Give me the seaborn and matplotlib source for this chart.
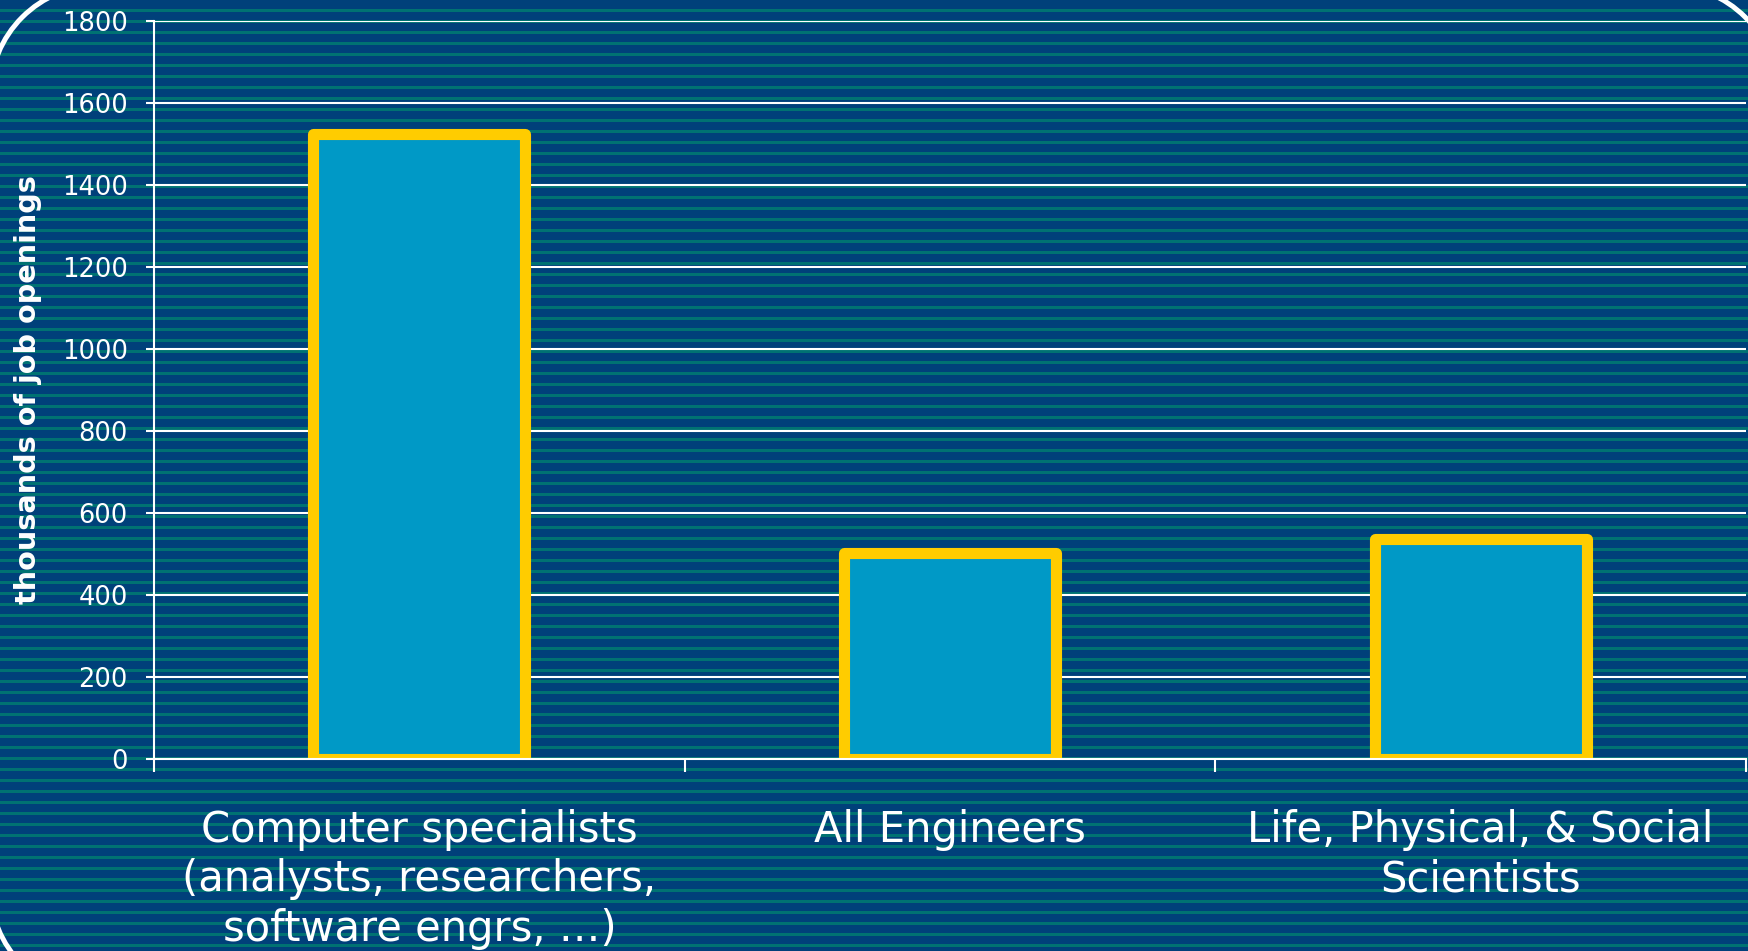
import matplotlib
matplotlib.use("Agg")
import matplotlib.pyplot as plt
from matplotlib.patches import Arc, Rectangle
import seaborn as sns
import pandas as pd

# Chart data
categories = [
    "Computer specialists\n(analysts, researchers,\nsoftware engrs, …)",
    "All Engineers",
    "Life, Physical, & Social\nScientists",
]
openings = [1525, 503, 537]
y_ticks = [0, 200, 400, 600, 800, 1000, 1200, 1400, 1600, 1800]
y_label = "thousands of job openings"

# Palette
NAVY = "#00407A"
STRIPE = "#007272"
BAR = "#0099C6"
EDGE = "#FFCC00"

sns.set_style("dark")
plt.rcParams["font.family"] = ["DejaVu Sans"]

W, H = 1749, 951
fig = plt.figure(figsize=(W / 100, H / 100), dpi=100)
fig.patch.set_facecolor(NAVY)

# Pinstriped slide background with a rounded white frame (pixel coordinates)
bg = fig.add_axes([0, 0, 1, 1], zorder=0)
bg.set_xlim(0, W)
bg.set_ylim(H, 0)
bg.axis("off")
bg.set_facecolor(NAVY)
for y in range(9, H, 11):
    bg.add_patch(Rectangle((0, y), W, 2.8, facecolor=STRIPE, lw=0))

R = 110
left, top, right, bottom = -10, -15, 1777.5, 997
corners = [
    ((left + R, top + R), 180, 270),
    ((right - R, top + R), 270, 360),
    ((left + R, bottom - R), 90, 180),
    ((right - R, bottom - R), 0, 90),
]
for (cx, cy), t1, t2 in corners:
    bg.add_patch(Arc((cx, cy), 2 * R, 2 * R, theta1=t1, theta2=t2,
                     color="white", lw=3.6))

# Plot area
ax = fig.add_axes([154 / W, 1 - 759 / H, (1746 - 154) / W, (759 - 21) / H], zorder=1)
ax.patch.set_alpha(0)

df = pd.DataFrame({"category": categories, "openings": openings})
sns.barplot(data=df, x="category", y="openings", ax=ax, width=0.4,
            color=BAR, saturation=1, edgecolor=EDGE, linewidth=8, zorder=2)
for p in ax.patches:
    p.set_joinstyle("round")

ax.set_xlim(-0.5, 2.5)
ax.set_ylim(0, 1800)
ax.set_yticks(y_ticks)
ax.grid(axis="y", color="white", lw=1.5)
ax.grid(axis="x", visible=False)
ax.set_axisbelow(True)

for side in ("top", "right"):
    ax.spines[side].set_visible(False)
for side in ("left", "bottom"):
    ax.spines[side].set_color("white")
    ax.spines[side].set_linewidth(1.5)

ax.set_xticks([0, 1, 2])
ax.set_xticklabels(categories, fontsize=30, color="white", linespacing=1.22)
ax.set_xticks([-0.5, 0.5, 1.5, 2.5], minor=True)
ax.tick_params(axis="x", which="major", bottom=True, length=0, pad=36)
ax.tick_params(axis="x", which="minor", bottom=True, length=9.5, width=1.5,
               color="white", direction="out")
ax.tick_params(axis="y", left=True, length=5.8, width=1.5, colors="white",
               labelsize=18.5, pad=13, direction="out")

ax.set_xlabel("")
ax.set_ylabel(y_label, fontsize=20.7, fontweight="bold", color="white")
ax.yaxis.set_label_coords(-0.0704, 0.5)

fig.savefig("out.png", dpi=100, facecolor=fig.get_facecolor())
